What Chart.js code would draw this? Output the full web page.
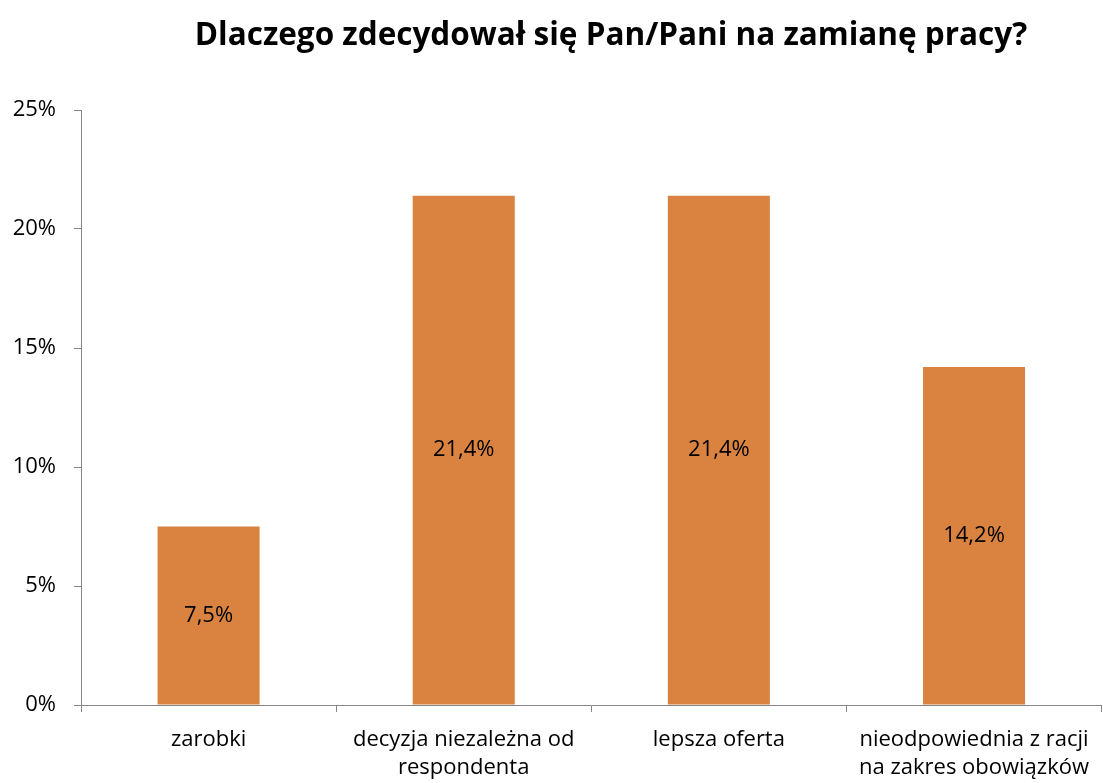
<!DOCTYPE html>
<html>
<head>
<meta charset="utf-8">
<script src="https://cdn.jsdelivr.net/npm/chart.js@4/dist/chart.umd.min.js"></script>
<style>
html,body{margin:0;padding:0;background:#fff;}
#wrap{width:1103px;height:783px;position:relative;}
</style>
</head>
<body>
<div id="wrap"><canvas id="c" width="1103" height="783"></canvas></div>
<script>
const title = 'Dlaczego zdecydował się Pan/Pani na zamianę pracy?';
const categories = [
  ['zarobki'],
  ['decyzja niezależna od', 'respondenta'],
  ['lepsza oferta'],
  ['nieodpowiednia z racji', 'na zakres obowiązków']
];
const values = [7.5, 21.4, 21.4, 14.2];
const valueLabels = ['7,5%', '21,4%', '21,4%', '14,2%'];
const yTicks = [0, 5, 10, 15, 20, 25];

const FONT = '"Open Sans", sans-serif';

const labelPlugin = {
  id: 'labels',
  afterDatasetsDraw(chart) {
    const ctx = chart.ctx;
    const meta = chart.getDatasetMeta(0);
    ctx.save();
    ctx.font = '22px ' + FONT;
    ctx.fillStyle = '#000';
    ctx.textAlign = 'center';
    ctx.textBaseline = 'middle';
    meta.data.forEach((bar, i) => {
      const y = (bar.y + bar.base) / 2;
      ctx.fillText(valueLabels[i], bar.x, y);
    });
    ctx.restore();
  },
  afterDraw(chart) {
    const ctx = chart.ctx;
    ctx.save();
    ctx.font = 'bold 31.5px ' + FONT;
    ctx.fillStyle = '#000';
    ctx.textAlign = 'center';
    ctx.textBaseline = 'middle';
    ctx.fillText(title, 611, 36);
    ctx.restore();
  }
};

new Chart(document.getElementById('c'), {
  type: 'bar',
  data: {
    labels: categories,
    datasets: [{
      data: values,
      backgroundColor: '#DA8340',
      categoryPercentage: 1,
      barPercentage: 0.4
    }]
  },
  options: {
    responsive: false,
    animation: false,
    layout: { padding: { top: 110, right: 0, bottom: 0, left: 0 } },
    plugins: { legend: { display: false }, tooltip: { enabled: false } },
    scales: {
      x: {
        offset: true,
        grid: { offset: true, drawOnChartArea: false, tickLength: 7, color: '#868686', lineWidth: 1 },
        border: { color: '#868686', width: 1 },
        ticks: { color: '#000', font: { family: FONT, size: 22, lineHeight: 1.25 }, padding: 14, maxRotation: 0, autoSkip: false },
        afterFit(s) { s.height = 78; }
      },
      y: {
        min: 0, max: 25,
        afterBuildTicks(s) { s.ticks = yTicks.map(v => ({ value: v })); },
        grid: { drawOnChartArea: false, tickLength: 7, color: '#868686' },
        border: { color: '#868686', width: 1 },
        ticks: { color: '#000', font: { family: FONT, size: 22 }, padding: 18, callback: v => v + '%' },
        afterFit(s) { s.width = 81; }
      }
    }
  },
  plugins: [labelPlugin]
});
</script>
</body>
</html>
